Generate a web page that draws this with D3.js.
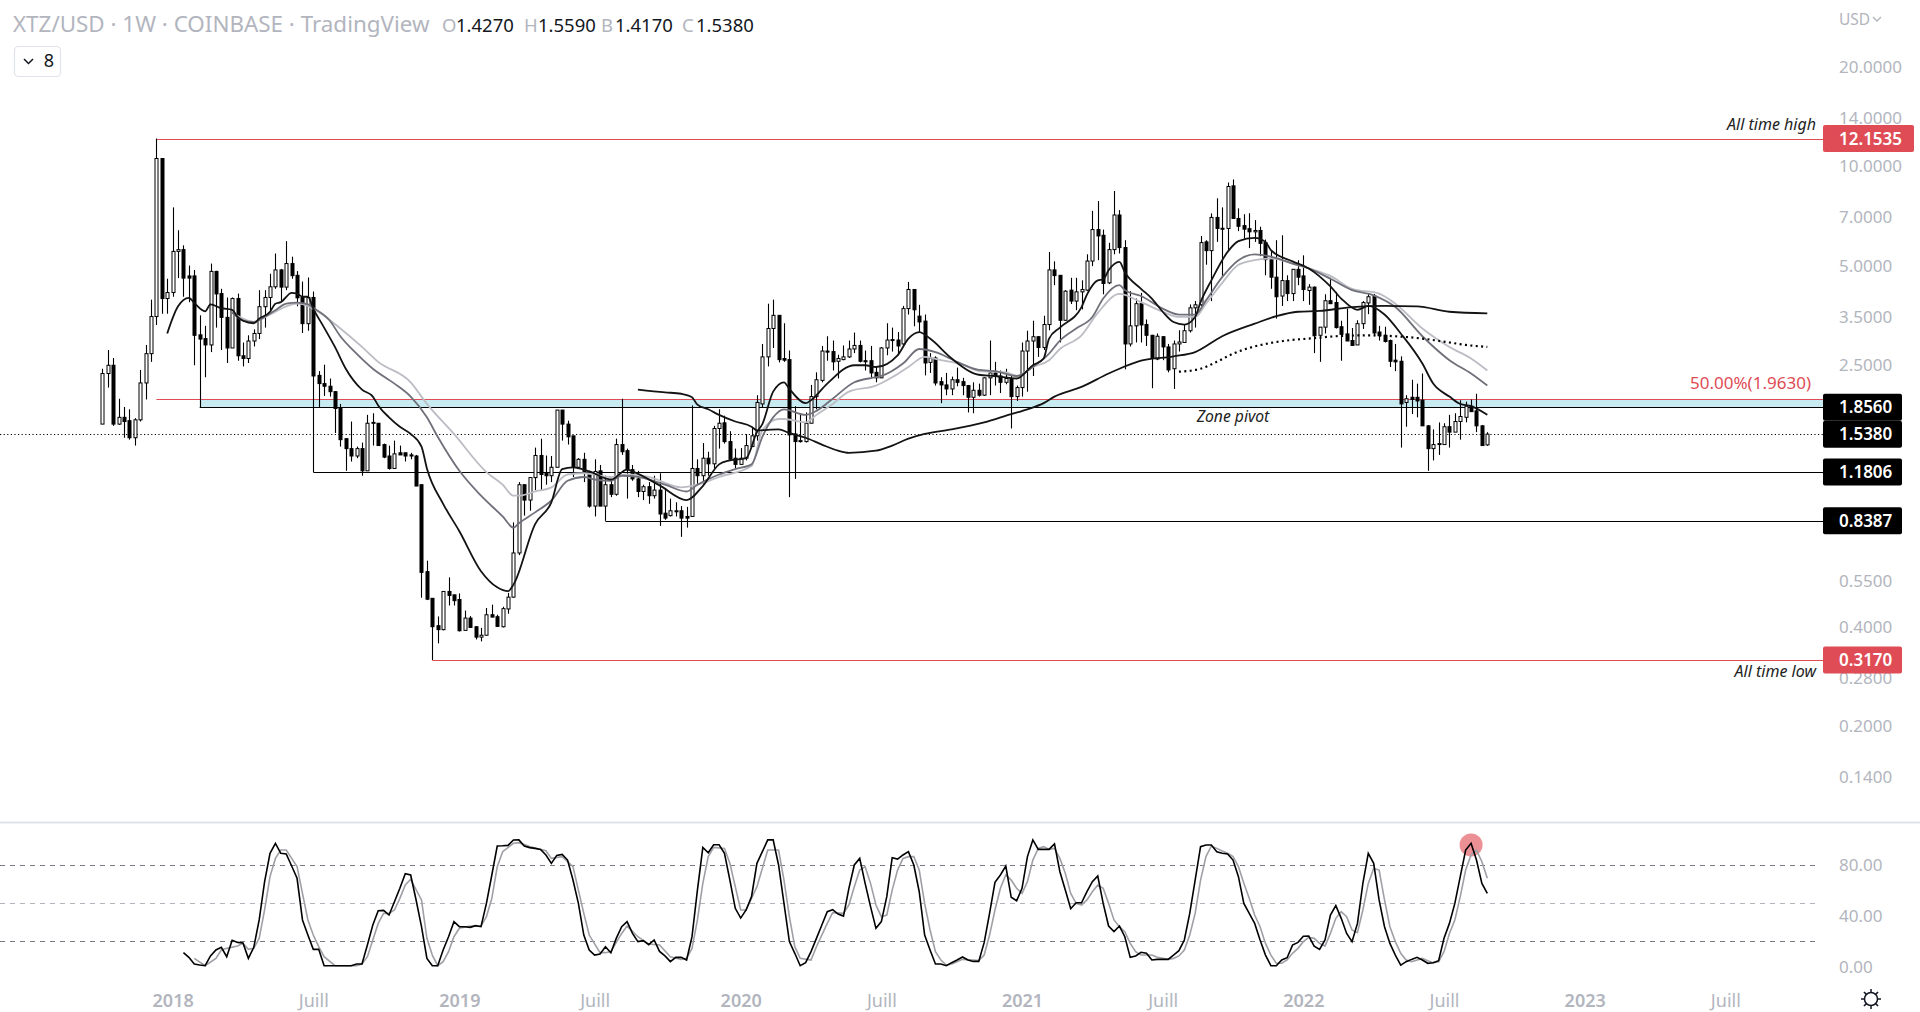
<!DOCTYPE html>
<html>
<head>
<meta charset="utf-8">
<title>XTZ/USD</title>
<script src="https://cdn.jsdelivr.net/npm/d3@7"></script>
<style>
  html, body { margin: 0; padding: 0; background: #fff; overflow: hidden; }
  text { font-family: "Noto Sans", sans-serif; }
</style>
</head>
<body>
<div id="stage"></div>
<script>
// weekly candles, XTZ/USD, first candle is the week of 2 Oct 2017
const opens = [
  1.65,2.35,2.49,1.65,1.73,1.69,1.50,1.70,2.20,2.70,
  3.50,10.57,3.97,4.14,5.52,5.59,4.65,4.65,3.08,3.00,
  2.87,4.80,4.11,3.48,2.81,3.97,2.66,2.61,2.95,3.11,
  3.75,4.00,4.31,4.85,4.30,5.07,4.67,4.00,3.33,4.00,
  2.32,2.19,2.15,2.07,1.84,1.49,1.39,1.32,1.39,1.19,
  1.66,1.66,1.43,1.32,1.21,1.35,1.35,1.33,1.32,1.08,
  0.588,0.488,0.403,0.392,0.512,0.50,0.484,0.39,0.425,0.40,
  0.372,0.377,0.435,0.429,0.40,0.453,0.492,0.67,1.08,0.97,
  1.135,1.325,1.17,1.15,1.22,1.82,1.65,1.52,1.22,1.29,
  1.185,0.93,1.19,0.93,1.08,1.01,1.43,1.37,1.20,1.125,
  1.03,1.065,1.00,1.04,0.885,0.87,0.895,0.90,0.865,0.865,
  1.21,1.15,1.30,1.25,1.60,1.665,1.46,1.30,1.245,1.30,
  1.41,1.52,1.90,2.64,3.22,3.53,2.61,2.59,1.54,1.46,
  1.46,1.66,2.00,2.24,2.75,2.74,2.56,2.59,2.64,2.79,
  2.86,2.57,2.57,2.37,2.28,2.81,2.97,2.97,2.89,3.70,
  4.23,3.51,3.39,2.54,2.62,2.22,2.17,2.11,2.25,2.22,
  2.16,1.99,2.09,2.02,2.28,2.36,2.31,2.21,2.27,2.00,
  2.13,2.75,2.95,3.04,2.82,3.31,4.85,4.67,3.41,4.21,
  3.90,4.16,4.21,5.16,6.43,6.18,4.43,5.59,7.12,5.67,
  2.89,3.28,3.83,3.31,3.07,2.60,3.04,2.83,2.43,2.89,
  2.92,3.17,3.72,3.80,5.90,5.55,7.00,6.49,6.48,8.73,
  6.95,6.61,6.47,6.33,6.39,5.87,5.21,4.61,4.04,4.50,
  4.11,4.87,4.65,4.20,4.30,3.07,3.25,3.91,3.86,3.26,
  3.10,2.96,2.87,3.33,3.85,4.04,3.14,3.07,2.96,2.58,
  2.56,1.92,1.99,1.99,1.95,1.63,1.39,1.43,1.43,1.62,
  1.56,1.68,1.73,1.87,1.81,1.63,1.427
];
const highs = [
  2.43,2.77,2.62,1.97,1.86,1.83,1.72,2.41,2.87,3.94,
  12.1535,10.57,4.56,7.51,6.40,5.76,5.00,4.85,3.53,3.28,
  5.07,4.82,4.25,4.00,4.00,4.11,2.92,3.07,3.20,4.21,
  4.21,4.72,5.44,4.88,5.93,5.32,4.81,4.47,4.60,4.17,
  2.39,2.50,2.27,2.08,1.90,1.49,1.68,1.41,1.45,1.76,
  1.78,1.66,1.44,1.42,1.47,1.42,1.35,1.35,1.33,1.08,
  0.635,0.488,0.43,0.513,0.565,0.50,0.505,0.448,0.431,0.402,
  0.397,0.456,0.467,0.435,0.46,0.507,0.83,1.10,1.08,1.14,
  1.40,1.49,1.325,1.32,1.82,1.82,1.69,1.52,1.30,1.35,
  1.19,1.29,1.24,1.15,1.11,1.49,1.97,1.39,1.24,1.19,
  1.08,1.10,1.15,1.17,1.04,0.98,0.955,0.93,0.925,1.88,
  1.29,1.445,1.36,1.63,1.83,1.75,1.57,1.39,1.395,1.54,
  1.62,2.02,2.89,3.83,3.94,3.53,3.34,2.76,1.87,1.78,
  1.79,2.17,2.37,2.85,3.05,2.96,2.68,2.86,2.96,3.13,
  2.96,2.76,2.85,2.46,2.83,3.34,3.24,3.14,3.77,4.46,
  4.23,3.80,3.55,2.71,2.65,2.29,2.36,2.30,2.45,2.28,
  2.17,2.21,2.19,2.29,2.96,2.55,2.40,2.43,2.31,2.16,
  2.92,3.17,3.40,3.05,3.52,5.50,5.15,4.68,4.21,4.59,
  4.59,4.51,5.41,7.33,7.85,6.43,5.86,8.42,7.37,5.97,
  4.18,3.97,4.13,3.43,3.08,3.11,3.05,2.89,2.96,3.18,
  3.31,3.81,3.90,6.15,5.97,7.20,8.00,7.51,8.94,9.13,
  7.46,7.16,7.21,6.87,6.56,6.00,5.57,5.97,6.18,4.67,
  4.88,5.19,5.37,4.39,4.32,3.25,4.09,4.59,4.16,3.40,
  3.70,3.23,3.41,3.90,4.10,4.10,3.28,3.26,2.98,2.89,
  2.65,2.02,2.25,2.19,2.35,1.64,1.59,1.67,1.66,1.76,
  1.78,1.95,1.93,1.96,2.04,1.64,1.559
];
const lows = [
  1.65,2.13,1.63,1.64,1.50,1.48,1.42,1.68,1.96,2.55,
  3.30,3.57,3.57,4.02,4.58,4.02,3.87,2.49,1.856,2.29,
  2.73,3.24,2.77,2.53,2.81,2.57,2.47,2.53,2.84,2.99,
  3.24,3.66,4.25,3.87,4.21,4.56,3.76,3.12,3.17,1.1806,
  1.86,2.01,2.00,1.55,1.41,1.19,1.27,1.30,1.15,1.19,
  1.42,1.42,1.30,1.20,1.21,1.33,1.27,1.29,1.07,0.49,
  0.482,0.317,0.356,0.39,0.464,0.464,0.387,0.389,0.397,0.366,
  0.361,0.376,0.427,0.40,0.398,0.438,0.49,0.66,0.87,0.90,
  1.04,1.04,1.08,1.10,1.22,1.47,1.43,1.14,1.21,1.10,
  0.92,0.865,0.93,0.8387,0.99,1.00,1.33,0.98,1.11,0.99,
  0.97,0.945,0.98,0.81,0.845,0.865,0.865,0.75,0.80,0.865,
  1.085,1.075,1.15,1.21,1.39,1.44,1.28,1.21,1.24,1.28,
  1.41,1.47,1.85,2.47,2.81,2.54,2.55,0.99,1.125,1.45,
  1.45,1.66,1.83,2.21,2.57,2.40,2.27,2.58,2.62,2.71,
  2.54,2.40,2.27,2.21,2.28,2.67,2.74,2.67,2.87,3.55,
  3.27,3.14,2.32,2.36,2.16,1.91,2.02,2.02,2.15,2.02,
  1.79,1.78,2.00,2.01,2.02,2.16,2.05,2.18,1.60,1.94,
  2.00,2.07,2.31,2.64,2.77,3.18,4.36,2.92,3.40,3.82,
  3.66,3.68,4.18,4.98,5.19,4.09,4.39,5.41,5.44,2.42,
  2.84,2.92,2.92,2.85,2.12,2.58,2.58,2.37,2.11,2.74,
  2.91,3.13,3.24,3.77,5.03,3.90,5.90,4.61,5.57,6.95,
  6.36,6.04,5.65,5.90,5.34,4.67,4.25,3.45,3.77,3.90,
  3.90,4.36,3.90,3.80,2.71,2.55,3.11,3.82,3.22,2.57,
  2.95,2.85,2.87,3.21,3.56,3.05,2.96,2.92,2.46,2.39,
  1.40,1.62,1.77,1.73,1.63,1.19,1.28,1.33,1.43,1.40,
  1.56,1.48,1.67,1.80,1.56,1.42,1.417
];
const closes = [
  2.35,2.49,1.65,1.73,1.68,1.50,1.70,2.20,2.70,3.50,
  10.57,3.97,4.14,5.52,5.59,4.58,4.58,3.07,2.99,2.87,
  4.80,4.10,3.48,2.81,3.97,2.66,2.61,2.95,3.11,3.75,
  4.00,4.31,4.85,4.30,5.07,4.66,3.99,3.33,4.00,2.31,
  2.19,2.15,2.07,1.84,1.48,1.39,1.32,1.39,1.19,1.66,
  1.67,1.42,1.31,1.21,1.34,1.33,1.32,1.32,1.07,0.585,
  0.485,0.40,0.392,0.512,0.498,0.48,0.389,0.425,0.398,0.372,
  0.377,0.435,0.428,0.401,0.454,0.492,0.67,1.08,0.97,1.135,
  1.325,1.16,1.15,1.22,1.82,1.65,1.51,1.22,1.29,1.185,
  0.93,1.185,0.93,1.08,1.01,1.43,1.36,1.20,1.125,1.03,
  1.065,1.00,1.04,0.88,0.855,0.90,0.90,0.855,0.855,1.21,
  1.15,1.30,1.25,1.60,1.66,1.46,1.29,1.245,1.30,1.42,
  1.52,1.92,2.64,3.22,3.53,2.59,2.58,1.53,1.46,1.47,
  1.66,2.00,2.25,2.75,2.73,2.55,2.61,2.64,2.79,2.86,
  2.56,2.56,2.36,2.28,2.81,2.97,2.98,2.85,3.70,4.23,
  3.67,3.37,2.53,2.62,2.20,2.17,2.11,2.25,2.21,2.16,
  1.99,2.09,2.02,2.28,2.36,2.31,2.21,2.27,2.00,2.13,
  2.75,2.95,3.04,2.82,3.31,4.85,4.66,3.41,4.18,3.90,
  4.16,4.23,5.16,6.43,6.15,4.41,5.59,7.12,5.67,2.89,
  3.28,3.83,3.30,3.07,2.61,3.05,2.83,2.41,2.89,2.93,
  3.17,3.72,3.80,5.87,5.55,7.00,6.48,6.46,8.69,6.95,
  6.58,6.45,6.33,6.39,5.84,5.21,4.61,4.02,4.50,4.11,
  4.87,4.61,4.23,4.30,3.06,3.25,3.91,3.83,3.24,3.09,
  2.95,2.86,3.33,3.86,4.02,3.12,3.06,2.94,2.56,2.55,
  1.90,1.97,1.96,1.94,1.63,1.39,1.43,1.44,1.62,1.56,
  1.68,1.74,1.87,1.80,1.63,1.42,1.538
];

// moving averages, read at the week numbers listed next to them
const fastWeeks = [12,14,16,17,19,20,22,24,25,26,28,29,31,32,33,35,36,37,38,39,41,43,45,48,50,51,53,55,57,59,60,63,66,70,73,75,76,80,83,85,87,90,94,97,98,103,108,111,114,116,119,121,122,124,126,127,130,131,134,139,141,143,147,149,151,153,157,162,165,169,172,174,175,177,181,182,184,185,186,188,189,192,194,196,198,200,202,203,205,208,210,213,215,216,220,223,227,229,232,234,237,240,244,246,249,251,253,256];
const fastMa = [3.11,3.76,3.99,3.85,3.63,3.81,3.71,3.67,3.49,3.40,3.34,3.45,3.62,3.83,3.87,4.13,4.11,4.02,4.02,3.70,3.24,2.83,2.43,2.10,2.00,1.88,1.73,1.62,1.54,1.41,1.21,0.945,0.78,0.59,0.527,0.513,0.537,0.82,0.955,1.205,1.22,1.185,1.12,1.20,1.185,1.075,0.97,1.07,1.245,1.28,1.30,1.56,1.65,2.07,2.21,2.11,1.91,1.95,2.19,2.49,2.49,2.46,2.67,3.00,3.14,3.00,2.61,2.33,2.31,2.27,2.49,2.61,3.00,3.24,3.74,4.08,4.51,4.54,4.84,5.13,4.77,4.25,3.97,3.62,3.37,3.31,3.49,3.87,4.51,5.50,5.93,6.07,5.90,5.57,5.15,4.90,4.32,3.97,3.67,3.77,3.55,3.11,2.52,2.19,2.00,1.90,1.87,1.76];

const midWeeks = [24,26,28,30,32,34,36,38,39,42,44,47,50,54,57,60,62,66,70,74,76,77,80,83,86,89,91,94,96,99,104,108,110,114,117,120,122,124,126,130,132,135,139,143,144,148,151,154,158,162,165,169,172,175,177,180,183,185,188,189,192,196,199,202,204,207,210,213,216,220,223,227,231,235,239,244,249,253,256];
const midMa = [3.60,3.41,3.37,3.49,3.66,3.83,3.86,3.81,3.72,3.41,3.05,2.70,2.43,2.19,2.00,1.73,1.51,1.19,1.00,0.865,0.80,0.825,0.89,0.967,1.11,1.14,1.12,1.11,1.15,1.14,1.08,1.03,1.08,1.16,1.205,1.245,1.51,1.73,1.83,1.76,1.81,1.97,2.21,2.29,2.31,2.52,2.79,2.73,2.55,2.41,2.39,2.31,2.46,2.70,2.96,3.22,3.49,3.97,4.36,4.21,4.04,3.70,3.55,3.55,3.92,4.61,5.19,5.41,5.32,5.07,4.90,4.56,4.21,4.06,3.74,3.05,2.58,2.35,2.16];

const slowWeeks = [24,26,28,30,32,34,36,38,39,44,48,51,57,60,65,71,74,76,77,80,83,86,89,94,97,101,107,110,114,120,122,125,126,130,132,135,138,143,146,149,152,155,159,162,167,169,172,175,177,181,184,188,192,196,199,202,204,207,210,213,216,220,223,227,231,236,239,244,249,253,256];
const slowMa = [3.60,3.45,3.37,3.48,3.62,3.76,3.83,3.77,3.70,3.22,2.83,2.55,2.21,1.90,1.54,1.18,1.08,1.00,1.00,1.03,1.06,1.16,1.17,1.14,1.16,1.14,1.06,1.08,1.14,1.23,1.58,1.71,1.71,1.67,1.76,1.90,2.07,2.16,2.29,2.46,2.64,2.58,2.50,2.39,2.37,2.31,2.46,2.58,2.79,3.07,3.59,4.10,3.87,3.62,3.49,3.49,3.83,4.43,5.03,5.19,5.26,5.07,4.90,4.65,4.25,4.11,3.83,3.22,2.83,2.61,2.40];

const longWeeks = [99,104,107,109,110,112,114,117,120,121,125,127,130,133,136,138,143,146,149,152,157,163,168,171,174,176,181,186,188,192,198,202,207,213,217,221,225,231,237,243,249,256];
const longMa = [2.10,2.06,2.04,1.99,1.89,1.83,1.76,1.68,1.62,1.58,1.59,1.55,1.50,1.43,1.37,1.35,1.37,1.42,1.49,1.54,1.59,1.67,1.77,1.83,1.91,2.00,2.14,2.35,2.43,2.57,2.65,2.73,3.05,3.33,3.51,3.62,3.64,3.74,3.77,3.76,3.62,3.58];

const dotWeeks = [199,203,206,209,213,215,219,224,228,234,239,244,249,252,256];
const dotMa = [2.38,2.43,2.55,2.70,2.84,2.89,2.96,3.01,3.05,3.07,3.05,3.00,2.92,2.87,2.83];

// stochastic, %K has one value per week from week 15 on
const stochStart = 15;
const stochK = [
  11.0,7.3,2.0,1.2,0.7,8.4,13.1,15.2,7.8,20.7,19.1,18.6,6.5,15.2,36.8,67.0,89.4,97.3,89.4,88.9,
  79.4,69.7,36.8,24.9,13.6,13.6,0.7,0.7,0.7,0.7,0.7,0.7,2.0,2.0,17.0,32.8,44.1,44.4,40.7,51.2,
  61.8,73.3,72.3,52.6,31.5,6.5,0.7,0.7,13.1,23.6,35.5,31.5,31.5,31.0,32.3,31.5,49.9,72.3,95.2,95.4,
  95.7,99.9,100,95.2,93.9,93.3,92.5,88.1,81.5,87.8,88.6,84.1,68.3,49.9,24.9,13.1,9.1,9.9,15.7,11.0,
  22.3,31.5,35.5,26.2,19.7,20.5,17.3,21.0,12.0,8.4,3.9,7.3,7.3,5.2,23.6,60.4,94.1,89.9,96.2,96.2,
  89.4,68.3,46.0,38.3,44.7,55.2,81.5,90.7,100,100,80.2,49.9,19.7,10.5,0.7,3.1,11.8,22.3,32.8,43.3,
  44.9,41.5,39.9,61.8,80.2,85.4,65.7,47.3,30.2,35.5,55.2,86.0,84.9,88.1,90.7,80.2,59.1,24.9,13.1,2.0,
  2.0,0.7,3.1,5.2,7.6,5.2,4.1,4.1,18.9,42.0,66.5,72.3,79.4,54.7,52.0,61.8,86.8,100,92.5,92.5,
  92.5,96.8,74.9,60.4,45.7,50.4,50.4,59.1,67.0,71.5,49.9,32.0,27.6,32.0,23.6,7.3,8.4,11.3,10.5,5.2,
  5.7,5.7,5.7,9.1,12.6,21.0,42.0,68.3,94.7,96.0,96.0,90.7,89.4,88.9,84.1,71.0,49.9,42.0,34.1,21.0,
  9.1,0.7,0.7,5.2,7.0,17.0,19.1,23.9,24.1,16.2,13.6,21.0,40.7,48.1,38.1,26.2,19.7,34.1,65.7,89.4,
  81.5,52.6,31.5,18.3,9.1,1.2,3.9,5.7,7.3,5.2,2.6,3.1,4.7,22.3,34.1,49.9,71.0,92.0,97.3,84.1,
  65.7,57.8
];
const stochDWeeks = [17,19,21,22,23,25,26,27,28,29,30,31,32,33,34,35,36,37,38,39,40,41,43,47,48,49,50,51,52,53,54,55,56,57,59,60,61,62,63,64,65,66,68,70,71,72,73,74,76,77,79,81,82,83,85,87,88,89,90,92,93,94,96,97,99,101,103,105,107,108,109,110,111,112,113,115,116,117,118,119,121,123,125,126,127,128,129,131,132,134,135,137,138,139,140,141,142,143,144,145,146,147,148,149,150,151,152,153,154,155,156,157,158,159,161,162,163,164,165,166,167,168,169,170,171,172,173,174,175,176,177,178,179,180,181,182,183,184,185,186,187,188,189,190,191,192,194,195,197,198,199,200,201,202,203,204,205,206,207,208,209,210,211,212,213,214,215,216,217,218,219,220,221,222,223,224,225,226,227,228,229,230,231,232,233,234,235,236,237,238,239,240,241,242,244,245,246,247,248,249,250,251,252,253,254,255,256];
const stochD = [6.5,0.7,6.5,13.1,14.4,16.2,18.4,13.6,14.4,22.3,44.7,71.0,85.4,92.0,92.0,85.4,78.9,57.8,36.8,24.9,15.7,7.8,0.7,0.7,2.0,7.8,21.0,34.1,42.0,42.0,44.7,53.9,64.4,68.9,52.6,22.3,9.1,0.7,3.9,11.8,23.6,30.2,32.0,32.0,39.4,53.9,78.9,90.7,97.3,97.8,94.7,92.5,91.5,85.4,86.8,78.9,60.4,42.0,24.9,11.0,11.0,11.8,26.2,32.0,23.6,17.8,17.0,7.8,5.7,6.5,14.4,36.8,65.7,86.8,94.1,93.3,81.5,63.1,44.7,44.7,63.1,92.0,92.0,68.3,39.4,15.7,6.5,5.2,15.7,34.1,42.6,42.0,48.6,63.1,76.2,78.9,65.7,48.6,39.4,40.7,60.4,76.2,85.4,86.8,86.8,76.2,49.9,28.9,11.8,5.2,1.2,2.0,3.9,5.7,5.2,4.7,9.1,24.9,44.7,61.8,72.3,68.3,61.8,57.8,67.0,84.1,93.3,94.7,92.5,93.3,85.4,73.6,57.8,49.9,48.6,52.6,59.1,64.4,61.8,49.9,36.8,31.5,27.6,18.3,11.8,9.1,9.1,7.3,5.7,6.5,8.4,13.1,24.9,42.0,68.3,86.8,95.2,93.3,91.2,89.4,86.8,78.9,65.7,53.9,40.7,31.5,18.3,9.1,2.6,2.6,5.2,10.5,14.4,19.7,23.1,22.3,18.3,16.2,26.2,38.1,43.3,39.4,28.9,26.8,44.7,65.7,77.5,76.2,52.6,31.5,19.7,10.5,5.2,3.9,6.5,4.7,3.1,3.9,11.8,26.2,36.8,55.2,76.2,88.1,92.0,82.8,69.7];

// levels drawn on the chart
const athPrice = 12.1535, atlPrice = 0.317, fibPrice = 1.963, pivotPrice = 1.856;
const supportA = 1.1806, supportB = 0.8387, lastPrice = 1.538;
const athWeek = 10, atlWeek = 61, fibWeek = 10, pivotWeek = 18, supportAWeek = 39, supportBWeek = 93;

const priceTicks = [20, 14, 10, 7, 5, 3.5, 2.5, 0.55, 0.4, 0.28, 0.2, 0.14];
const stochTicks = [80, 40, 0];
// first weekly bar of each half year
const timeTicks = [[2018,0,1],[2018,6,2],[2019,0,7],[2019,6,1],[2020,0,6],[2020,6,6],[2021,0,4],[2021,6,5],[2022,0,3],[2022,6,4],[2023,0,2],[2023,6,3]];

const width = 1920, height = 1012;
const axisLeft = 1823;
const firstWeek = Date.UTC(2017, 9, 2);
const weekDate = i => new Date(firstWeek + i * 7 * 864e5);

const x = d3.scaleUtc().domain([weekDate(0), weekDate(256)]).range([102.3, 1487.3]);
const y = d3.scaleLog().domain([0.1, 20]).range([825, 67.3]);
const yStoch = d3.scaleLinear().domain([0, 100]).range([966.6, 839.9]);
const xw = i => x(weekDate(i));

const red = '#e04c56', black = '#000', axisGrey = '#b2b5be';

const svg = d3.select('#stage').append('svg')
    .attr('width', width).attr('height', height)
    .style('display', 'block');

svg.append('rect').attr('width', width).attr('height', height).attr('fill', '#fff');

// pivot zone and level lines
svg.append('rect')
    .attr('x', xw(pivotWeek)).attr('y', y(fibPrice))
    .attr('width', axisLeft - xw(pivotWeek)).attr('height', y(pivotPrice) - y(fibPrice))
    .attr('fill', '#c7ebf1');

function level(price, week, color, w) {
    svg.append('line')
        .attr('x1', xw(week)).attr('x2', axisLeft)
        .attr('y1', Math.round(y(price)) + 0.5).attr('y2', Math.round(y(price)) + 0.5)
        .attr('stroke', color).attr('stroke-width', w || 1.2);
}
svg.append('line')
    .attr('x1', 0).attr('x2', axisLeft)
    .attr('y1', Math.round(y(lastPrice)) + 0.5).attr('y2', Math.round(y(lastPrice)) + 0.5)
    .attr('stroke', '#000').attr('stroke-width', 1).attr('stroke-dasharray', '1.2 2.4');

level(athPrice, athWeek, red);
level(fibPrice, fibWeek, red);
level(atlPrice, atlWeek, red);
level(pivotPrice, pivotWeek, black);
level(supportA, supportAWeek, black);
level(supportB, supportBWeek, black);

// candles
const candles = d3.range(opens.length);
const cx = i => Math.round(xw(i));
svg.append('g').selectAll('line').data(candles).join('line')
    .attr('x1', i => cx(i) + 0.5).attr('x2', i => cx(i) + 0.5)
    .attr('y1', i => y(highs[i])).attr('y2', i => y(lows[i]))
    .attr('stroke', '#000').attr('stroke-width', 1.1);
svg.append('g').selectAll('rect').data(candles).join('rect')
    .attr('x', i => cx(i) - 1)
    .attr('y', i => y(Math.max(opens[i], closes[i])))
    .attr('width', 3)
    .attr('height', i => Math.max(1, Math.abs(y(opens[i]) - y(closes[i]))))
    .attr('fill', i => closes[i] >= opens[i] ? '#fff' : '#000')
    .attr('stroke', '#000').attr('stroke-width', 1);

// moving averages
const maLine = d3.line()
    .x(d => xw(d[0])).y(d => y(d[1]))
    .curve(d3.curveMonotoneX);
function drawMa(weeks, values, color, w, dash) {
    svg.append('path')
        .attr('d', maLine(weeks.map((k, n) => [k, values[n]])))
        .attr('fill', 'none').attr('stroke', color).attr('stroke-width', w)
        .attr('stroke-dasharray', dash || null);
}
drawMa(slowWeeks, slowMa, '#bcbdc4', 1.8);
drawMa(midWeeks, midMa, '#6f7079', 1.8);
drawMa(fastWeeks, fastMa, '#131313', 1.8);
drawMa(longWeeks, longMa, '#131313', 1.8);
drawMa(dotWeeks, dotMa, '#000', 2.2, '2 3.41');

// stochastic pane
svg.append('line').attr('x1', 0).attr('x2', width).attr('y1', 822.5).attr('y2', 822.5)
    .attr('stroke', '#e0e3eb').attr('stroke-width', 2);

[[80, '#787b86'], [50, '#b2b5be'], [20, '#787b86']].forEach(([v, c]) => {
    svg.append('line').attr('x1', 0).attr('x2', 1820)
        .attr('y1', Math.round(yStoch(v)) + 0.5).attr('y2', Math.round(yStoch(v)) + 0.5)
        .attr('stroke', c).attr('stroke-width', 1.1).attr('stroke-dasharray', '5 5');
});

const stochLine = d3.line().x(d => xw(d[0])).y(d => yStoch(d[1]));
svg.append('circle')
    .attr('cx', xw(253)).attr('cy', yStoch(96)).attr('r', 11.5)
    .attr('fill', '#e04c56').attr('fill-opacity', 0.62);
svg.append('path')
    .attr('d', stochLine(stochDWeeks.map((k, n) => [k, stochD[n]])))
    .attr('fill', 'none').attr('stroke', '#9fa0a6').attr('stroke-width', 1.6);
svg.append('path')
    .attr('d', stochLine(stochK.map((v, n) => [stochStart + n, v])))
    .attr('fill', 'none').attr('stroke', '#000').attr('stroke-width', 1.6);

// axes
const fmt4 = d3.format('.4f');
const priceAxis = svg.append('g').attr('transform', `translate(${axisLeft},0)`)
    .call(d3.axisRight(y).tickValues(priceTicks).tickFormat(fmt4).tickSize(0).tickPadding(16));
const stochAxis = svg.append('g').attr('transform', `translate(${axisLeft},0)`)
    .call(d3.axisRight(yStoch).tickValues(stochTicks).tickFormat(d3.format('.2f')).tickSize(0).tickPadding(16));
const timeAxis = svg.append('g').attr('transform', 'translate(0,994)')
    .call(d3.axisBottom(x)
        .tickValues(timeTicks.map(d => new Date(Date.UTC(d[0], d[1], d[2]))))
        .tickFormat(d => d.getUTCMonth() === 0 ? String(d.getUTCFullYear()) : 'Juill')
        .tickSize(0).tickPadding(0));
[priceAxis, stochAxis, timeAxis].forEach(a => {
    a.select('.domain').remove();
    a.selectAll('text')
        .attr('fill', axisGrey)
        .style('font-family', '"Noto Sans", sans-serif')
        .style('font-size', '17px');
});
timeAxis.selectAll('text')
    .style('font-size', '18px')
    .style('font-weight', d => d.getUTCMonth() === 0 ? 600 : 400);

// price tags on the axis
function tag(price, color, w) {
    const g = svg.append('g').attr('transform', `translate(${axisLeft},${y(price)})`);
    g.append('rect').attr('x', 0).attr('y', -13.5).attr('width', w).attr('height', 27).attr('rx', 2).attr('fill', color);
    g.append('text').attr('x', 16).attr('y', 6).attr('fill', '#fff')
        .style('font-size', '17px').style('font-weight', 600).text(fmt4(price));
}
tag(athPrice, red, 91);
tag(pivotPrice, black, 79);
tag(lastPrice, black, 79);
tag(supportA, black, 79);
tag(supportB, black, 79);
tag(atlPrice, red, 79);

// annotations
function note(txt, px, py, anchor, color, size, italic) {
    svg.append('text').attr('x', px).attr('y', py)
        .attr('text-anchor', anchor).attr('fill', color)
        .style('font-size', size + 'px')
        .style('font-style', italic ? 'italic' : 'normal')
        .text(txt);
}
note('All time high', 1816, 130, 'end', '#222', 16, true);
note('All time low', 1816, 677, 'end', '#222', 16, true);
note('Zone pivot', 1233, 422, 'middle', '#222', 15.7, true);
note('50.00%(' + fibPrice.toFixed(4) + ')', 1811, 389, 'end', red, 17);

// header
note('XTZ/USD · 1W · COINBASE · TradingView', 13, 32, 'start', axisGrey, 22.4);
const ohlc = [['O', opens, 442], ['H', highs, 524], ['B', lows, 601], ['C', closes, 682]];
ohlc.forEach(([k, arr, px]) => {
    note(k, px, 32, 'start', axisGrey, 18.5);
    note(fmt4(arr[arr.length - 1]), px + 14, 32, 'start', '#131722', 18.5);
});
note('USD', 1839, 25, 'start', axisGrey, 15.5);
svg.append('path').attr('d', 'M1873 17l4 4 4-4').attr('fill', 'none').attr('stroke', axisGrey).attr('stroke-width', 1.4);

svg.append('rect').attr('x', 14.5).attr('y', 46.5).attr('width', 46).attr('height', 30).attr('rx', 4)
    .attr('fill', '#fff').attr('stroke', '#e0e3eb').attr('stroke-width', 1.2);
svg.append('path').attr('d', 'M24 59l4.5 4.5 4.5-4.5').attr('fill', 'none').attr('stroke', '#131722').attr('stroke-width', 1.5);
note('8', 49, 67, 'middle', '#131722', 18);

// settings icon
const gear = svg.append('g').attr('transform', 'translate(1871,999)').attr('stroke', '#131722').attr('fill', 'none').attr('stroke-width', 1.5);
gear.append('circle').attr('r', 6.5);
d3.range(8).forEach(k => {
    const a = k * Math.PI / 4;
    gear.append('line')
        .attr('x1', 6.5 * Math.cos(a)).attr('y1', 6.5 * Math.sin(a))
        .attr('x2', 10 * Math.cos(a)).attr('y2', 10 * Math.sin(a));
});
</script>
</body>
</html>
